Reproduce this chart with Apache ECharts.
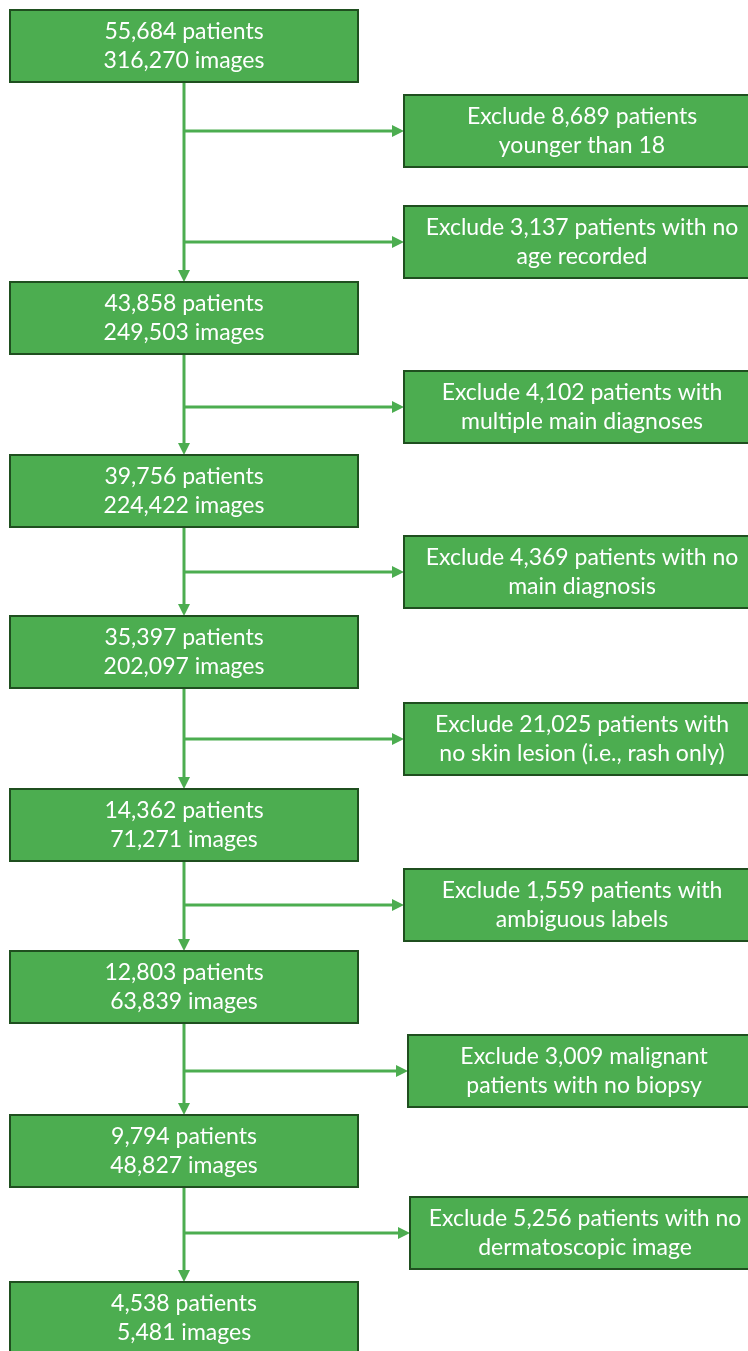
<!DOCTYPE html>
<html>
<head>
<meta charset="utf-8">
<script src="https://cdn.jsdelivr.net/npm/echarts@6/dist/echarts.min.js"></script>
<style>
  html, body { margin: 0; padding: 0; background: #fff; }
  #chart { width: 748px; height: 1351px; }
</style>
</head>
<body>
<div id="chart"></div>
<script>
// 主流程：患者数与图像数
const patients = ['55,684', '43,858', '39,756', '35,397', '14,362', '12,803', '9,794', '4,538']
const images = ['316,270', '249,503', '224,422', '202,097', '71,271', '63,839', '48,827', '5,481']

// 排除步骤（两行文字）
const excludeLine1 = [
  'Exclude 8,689 patients',
  'Exclude 3,137 patients with no',
  'Exclude 4,102 patients with',
  'Exclude 4,369 patients with no',
  'Exclude 21,025 patients with',
  'Exclude 1,559 patients with',
  'Exclude 3,009 malignant',
  'Exclude 5,256 patients with no'
]
const excludeLine2 = [
  'younger than 18',
  'age recorded',
  'multiple main diagnoses',
  'main diagnosis',
  'no skin lesion (i.e., rash only)',
  'ambiguous labels',
  'patients with no biopsy',
  'dermatoscopic image'
]

// 布局
const mainTop = [10, 282, 455, 616, 789, 951, 1115, 1282]
const excludeTop = [95, 206, 371, 536, 703, 869, 1035, 1197]
const excludeLeft = [404, 404, 404, 404, 404, 404, 408, 410]
const excludeRight = 750
const mainLeft = 10
const mainWidth = 348
const boxHeight = 72
const stemX = 184

const FILL = '#4cad50'
const BORDER = '#1f4f1f'
const LINE = '#4cad50'
const FONT = 'Lato, "Open Sans", sans-serif'

const chart = echarts.init(document.getElementById('chart'))
const elements = []

const box = (x, y, w, text) => {
  elements.push({
    type: 'rect',
    shape: { x: x, y: y, width: w, height: boxHeight },
    style: { fill: FILL, stroke: BORDER, lineWidth: 2 }
  })
  elements.push({
    type: 'text',
    x: x + w / 2,
    y: y + boxHeight / 2,
    style: {
      text: text,
      fill: '#fff',
      font: '23px ' + FONT,
      lineHeight: 29,
      align: 'center',
      verticalAlign: 'middle'
    }
  })
}

const arrowDown = (x, y1, y2) => {
  elements.push({
    type: 'line',
    shape: { x1: x, y1: y1, x2: x, y2: y2 - 10 },
    style: { stroke: LINE, lineWidth: 3 }
  })
  elements.push({
    type: 'polygon',
    shape: { points: [[x - 6, y2 - 12], [x + 6, y2 - 12], [x, y2]] },
    style: { fill: LINE }
  })
}

const arrowRight = (x1, x2, y) => {
  elements.push({
    type: 'line',
    shape: { x1: x1, y1: y, x2: x2 - 10, y2: y },
    style: { stroke: LINE, lineWidth: 3 }
  })
  elements.push({
    type: 'polygon',
    shape: { points: [[x2 - 12, y - 6], [x2 - 12, y + 6], [x2, y]] },
    style: { fill: LINE }
  })
}

// 连接线
for (let i = 0; i < patients.length - 1; i++) {
  arrowDown(stemX, mainTop[i] + boxHeight, mainTop[i + 1])
}
excludeLine1.forEach((t, i) => {
  arrowRight(stemX, excludeLeft[i], excludeTop[i] + boxHeight / 2)
})

// 方框
patients.forEach((p, i) => {
  box(mainLeft, mainTop[i], mainWidth, p + ' patients\n' + images[i] + ' images')
})
excludeLine1.forEach((t, i) => {
  box(excludeLeft[i], excludeTop[i], excludeRight + 10 - excludeLeft[i], t + '\n' + excludeLine2[i])
})

chart.setOption({
  animation: false,
  graphic: { elements: elements }
})
</script>
</body>
</html>
